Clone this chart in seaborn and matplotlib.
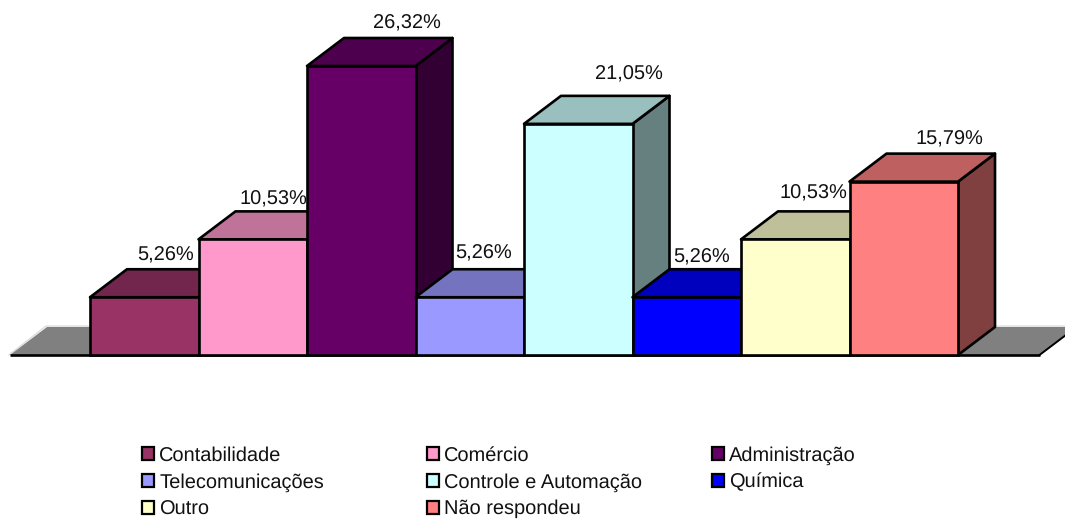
import matplotlib
matplotlib.use("Agg")
import matplotlib.pyplot as plt
import numpy as np
import pandas as pd
import seaborn as sns
from matplotlib.colors import to_rgb
from matplotlib.patches import Polygon, Patch

categories = ["Contabilidade", "Comércio", "Administração", "Telecomunicações",
              "Controle e Automação", "Química", "Outro", "Não respondeu"]
values = [5.26, 10.53, 26.32, 5.26, 21.05, 5.26, 10.53, 15.79]
colors = ["#993366", "#FF99CC", "#660066", "#9999FF", "#CCFFFF", "#0000FF", "#FFFFCC", "#FF8080"]
# label offsets from the top centre of each front face, in pixels
label_dx = [21, 21, 46, 14, 51, 15, 18, 46]
label_dy = [42, 40, 43, 44, 50, 40, 46, 42]

W, H = 1065, 519
sns.set_theme(style="white")
plt.rcParams["font.family"] = ["Liberation Sans", "DejaVu Sans"]
plt.rcParams["text.hinting"] = "no_hinting"
plt.rcParams["text.hinting_factor"] = 1
FS = 14.1
LW = 1.9
TXT = "#111111"

fig = plt.figure(figsize=(W / 100, H / 100), dpi=100)
ax = fig.add_axes([0, 0, 1, 1])
df = pd.DataFrame({"cat": categories, "val": values})
sns.barplot(data=df, x="cat", y="val", hue="cat", palette=colors, order=categories,
            hue_order=categories, saturation=1, width=1, dodge=False, legend=False,
            edgecolor="black", linewidth=LW, ax=ax, clip_on=False)

# pixel mapping of the scales
px_per_x = 108.5
px_per_y = 289 / 26.32
x0_px, y0_px = 90, 355
xl = -0.5 - x0_px / px_per_x
yb = -(H - y0_px) / px_per_y
ax.set_xlim(xl, xl + W / px_per_x)
ax.set_ylim(yb, yb + H / px_per_y)
ax.axis("off")

dx = 37 / px_per_x
dy = 28 / px_per_y


def shade(c, f):
    return tuple(v * f for v in to_rgb(c))


# floor
fl = -0.5 - 80 / px_per_x
fr = 7.5 + 81.5 / px_per_x
ax.add_patch(Polygon([(fl, 0), (fl + dx, dy), (fr + dx, dy), (fr, 0)], closed=True,
                     facecolor="#808080", edgecolor="none", zorder=0.5))
ax.plot([fl - 0.01, fl + dx - 0.01, fr + dx], [0, dy + 0.08, dy + 0.08], color="#dddddd", lw=1, zorder=0.4)
ax.plot([fl, fr], [0, 0], color="black", lw=LW, zorder=0.6, solid_capstyle="butt")
ax.plot([fr, fr + dx], [0, dy], color="black", lw=1.4, zorder=0.6)

bars = list(ax.patches)[:len(values)]
for i, (bar, c, ldx, ldy) in enumerate(zip(bars, colors, label_dx, label_dy)):
    x, w, h = bar.get_x(), bar.get_width(), bar.get_height()
    z = 1 + i
    ax.add_patch(Polygon([(x + w, 0), (x + w + dx, dy), (x + w + dx, h + dy), (x + w, h)],
                         closed=True, facecolor=shade(c, 0.5), edgecolor="black",
                         lw=LW, zorder=z, joinstyle="round"))
    ax.add_patch(Polygon([(x, h), (x + dx, h + dy), (x + w + dx, h + dy), (x + w, h)],
                         closed=True, facecolor=shade(c, 0.75), edgecolor="black",
                         lw=LW, zorder=z + 0.1, joinstyle="round"))
    ax.annotate(f"{values[i]:.2f}%".replace(".", ","), (x + w / 2, h),
                xytext=(ldx, ldy), textcoords="offset pixels", ha="center", va="center",
                fontsize=FS, color=TXT, zorder=z + 0.2)
    bar.set_zorder(z + 0.3)

# legend: three columns filled row by row
handles = [Patch(facecolor=c, edgecolor="black", linewidth=1.6) for c in colors]
col_x = [142, 427, 712]
for k, cx in enumerate(col_x):
    idx = range(k, len(categories), 3)
    leg = fig.legend([handles[i] for i in idx], [categories[i] for i in idx],
                     loc="upper left", bbox_to_anchor=(cx / W, 1 - 446 / H),
                     frameon=False, fontsize=FS, ncols=1, borderpad=0, borderaxespad=0,
                     handlelength=0.6, handleheight=0.6, handletextpad=0.28,
                     labelspacing=0.42)
    for t in leg.get_texts():
        t.set_color(TXT)

fig.savefig("out.png", dpi=100, facecolor="white")
